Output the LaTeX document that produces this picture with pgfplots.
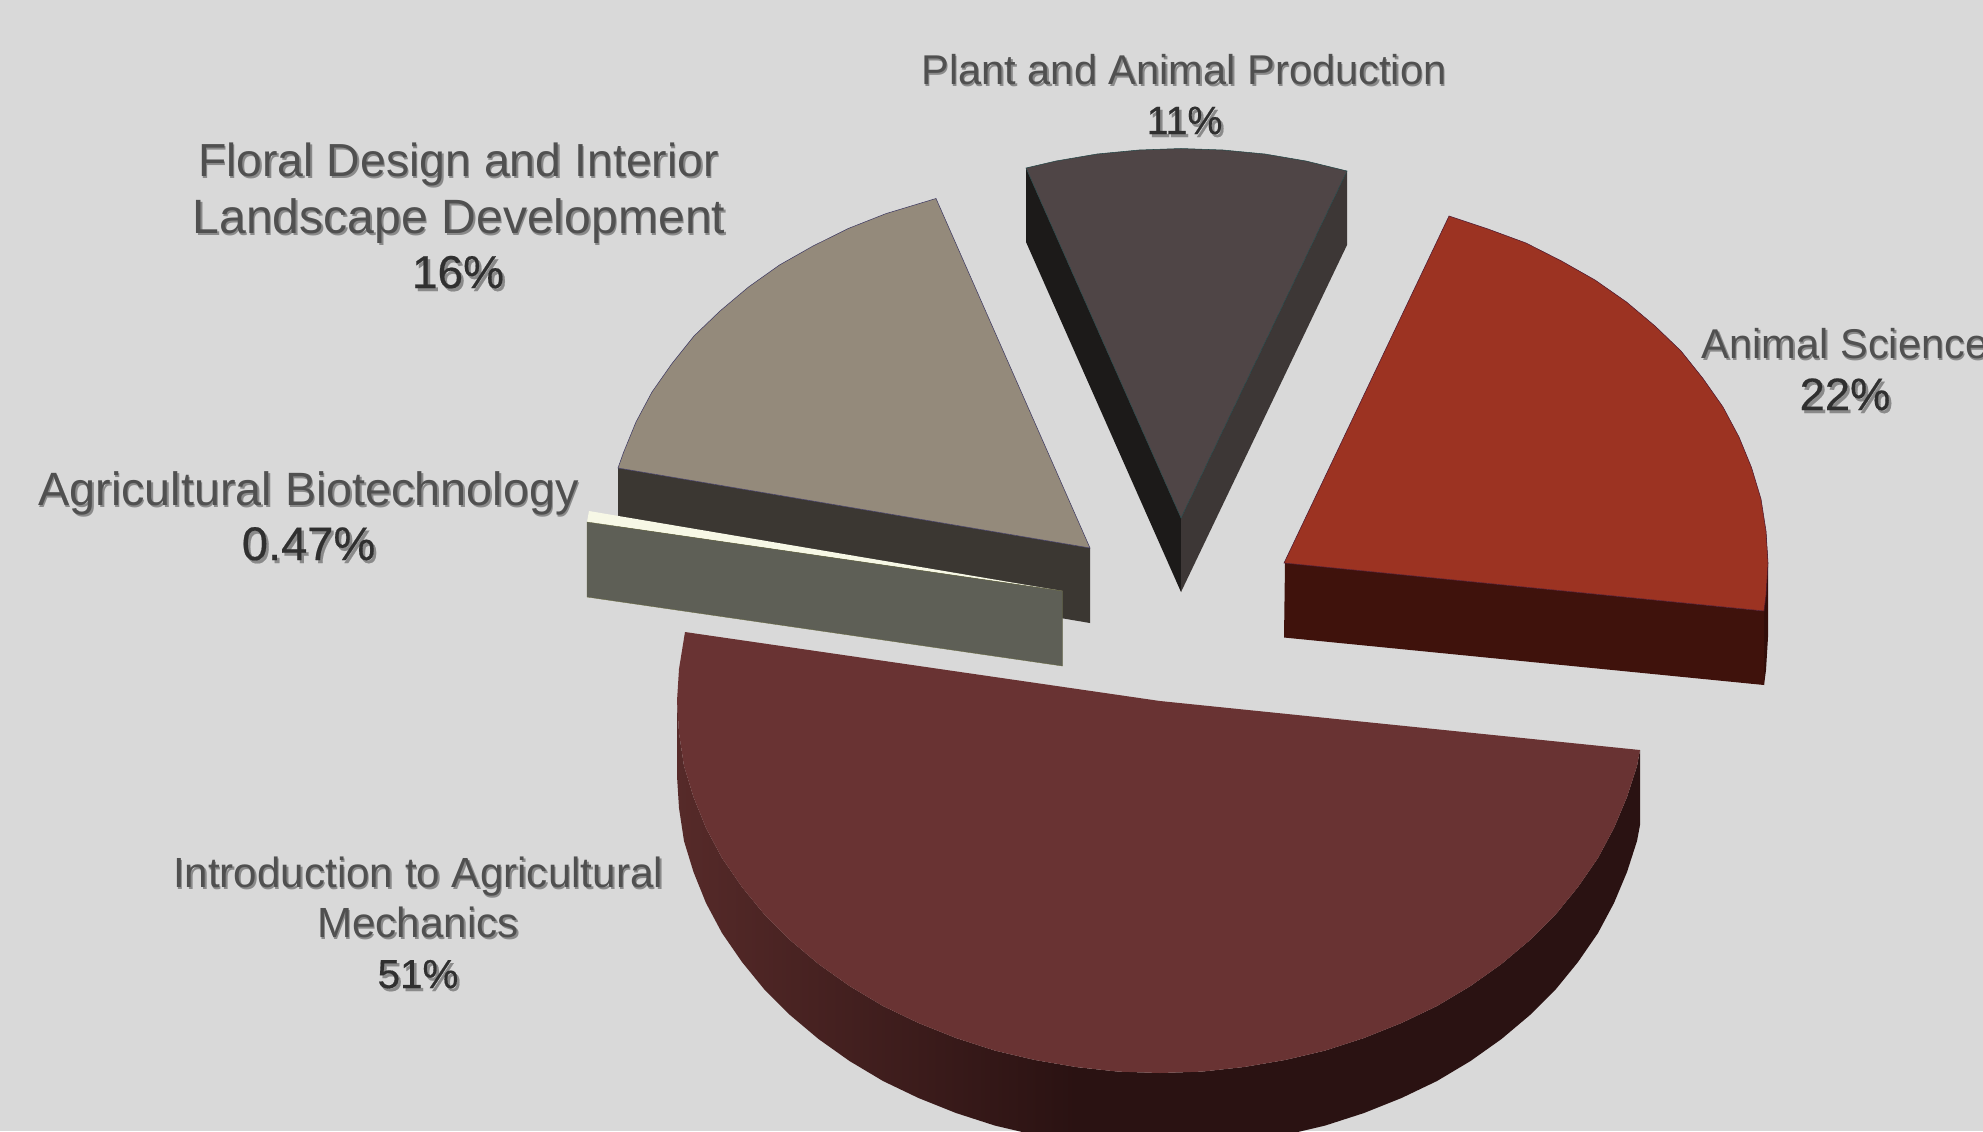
\documentclass[border=0pt]{standalone}
\usepackage{fontspec}
\setmainfont{Liberation Sans}
\newfontfamily\valuefont[FakeBold=0.4]{Liberation Sans}
\usepackage{pgfplots}
\pgfplotsset{compat=1.18}

\definecolor{bgcol}{HTML}{D9D9D9}
\definecolor{plantTop}{HTML}{4F4546}
\definecolor{plantLeft}{HTML}{1C1A19}
\definecolor{plantRight}{HTML}{3D3736}
\definecolor{animalTop}{HTML}{9C3322}
\definecolor{animalSide}{HTML}{3F120C}
\definecolor{floralTop}{HTML}{948A7B}
\definecolor{floralSide}{HTML}{3B3732}
\definecolor{biotechFront}{HTML}{5E5F56}
\definecolor{biotechTop}{HTML}{F7F8E6}
\definecolor{mechTop}{HTML}{693333}
\definecolor{mechDark}{HTML}{2A1212}
\definecolor{mechLight}{HTML}{562A29}
\definecolor{labelcol}{HTML}{505050}
\definecolor{valuecol}{HTML}{303030}
\definecolor{shadowcol}{HTML}{8A8A8A}

% one pixel of the drawing is 0.1 mm; positions below are given in pixels
% category label, one line, with its soft drop shadow
\newcommand{\catline}[4]{%
  \node[anchor=base,text=shadowcol,inner sep=0pt] at (axis cs:#1+1.5,#2+2) {\fontsize{#3}{#3}\selectfont #4};
  \node[anchor=base,text=labelcol,inner sep=0pt] at (axis cs:#1,#2) {\fontsize{#3}{#3}\selectfont #4};}
% percentage label, darker and with a heavier shadow
\newcommand{\valline}[4]{%
  \node[anchor=base,text=shadowcol,inner sep=0pt] at (axis cs:#1+2.5,#2+3) {\valuefont\fontsize{#3}{#3}\selectfont #4};
  \node[anchor=base,text=valuecol,inner sep=0pt] at (axis cs:#1,#2) {\valuefont\fontsize{#3}{#3}\selectfont #4};}

\begin{document}
\begin{tikzpicture}
\useasboundingbox (0,0) rectangle (19.83cm,11.31cm);
\clip (0,0) rectangle (19.83cm,11.31cm);
\begin{axis}[
  at={(0,0)}, anchor=south west,
  scale only axis, width=19.83cm, height=11.31cm,
  xmin=0, xmax=1983, ymin=0, ymax=1131, y dir=reverse,
  axis lines=none, ticks=none, no markers,
  axis background/.style={fill=bgcol},
]
% Floral Design slice: cut wall, then top face
\addplot[fill=floralSide,draw=none] coordinates {(618,468) (1090,548) (1090,623) (618,543)} --cycle;
\addplot[fill=floralTop,draw=floralTop!70!blue!60!black,line width=0.15pt] coordinates {
  (1090,548) (936,198.5) (886,213.6) (848.5,228.4) (813,246) (779.5,265) (748.5,287) (720,311)
  (694,336) (672,363.5) (652,392) (636,422) (623.5,452.5) (618,468)} --cycle;

% Agricultural Biotechnology sliver: nearly all of it is the cut wall
\addplot[fill=biotechTop,draw=none] coordinates {(589,511) (587,522) (1062.5,591)} --cycle;
\addplot[fill=biotechFront,draw=biotechFront!85!yellow!90!black,line width=0.1pt] coordinates {
  (587,522) (1062.5,591) (1062.5,666) (587,597)} --cycle;

% Plant and Animal Production slice
\addplot[fill=plantLeft,draw=none] coordinates {(1026,168) (1181,518) (1181,592) (1026,242)} --cycle;
\addplot[fill=plantRight,draw=none] coordinates {(1347,171) (1181,518) (1181,592) (1347,245)} --cycle;
\addplot[fill=plantTop,draw=plantTop!75!cyan!60!black,line width=0.15pt] coordinates {
  (1181,518) (1347,171) (1306,161) (1265,154) (1223,150) (1181,148.5) (1139,150) (1097,154)
  (1056,161) (1026,168)} --cycle;

% Animal Science slice: outer rim sliver, cut wall, top face
\addplot[fill=animalSide!80!black,draw=none] coordinates {
  (1766,531) (1768,563) (1768,637) (1766,670) (1764,685) (1764,611)} --cycle;
\addplot[fill=animalSide,draw=none] coordinates {(1285,563) (1764,611) (1764,685) (1284,637.5)} --cycle;
\addplot[fill=animalTop,draw=animalTop!80!blue!60!black,line width=0.15pt] coordinates {
  (1284,563) (1449,216) (1488,229) (1526,243) (1561.5,261) (1595,280) (1626.5,302) (1655,326)
  (1681,351) (1703,378.5) (1723,407) (1739,437) (1751.5,467.5) (1761,499) (1766,531) (1768,563)
  (1766,595) (1764,611)} --cycle;

% Introduction to Agricultural Mechanics slice: lit part of the outer wall
\addplot[left color=mechLight,right color=mechDark,draw=none] coordinates {
  (677,701) (679,733) (684,766) (693.5,797) (706,828) (722,858) (742,887) (764,914) (790,940)
  (818.5,964) (849.5,986) (883,1006) (918.5,1023) (956,1038) (995,1050.6) (1035,1060) (1076,1067)
  (1076,1142) (1035,1135) (995,1125.6) (956,1113) (918.5,1098) (883,1081)
  (849.5,1061) (818.5,1039) (790,1015) (764,989) (742,962) (722,933) (706,903) (693.5,872)
  (684,841) (679,808) (677,776)} --cycle;
% the part of the wall turned away from the light
\addplot[fill=mechDark,draw=none] coordinates {
  (1075.5,1067) (1118,1071.6) (1160,1073) (1202,1071.6) (1244,1067) (1285,1060) (1325,1050.6) (1364,1038) (1401.5,1023)
  (1437,1006) (1470.5,986) (1501.5,964) (1530,940) (1556,914) (1578,887) (1598,858) (1614,828)
  (1627,797) (1637,766) (1640,750)
  (1640,825) (1637,841) (1627,872) (1614,903) (1598,933) (1578,962) (1556,989) (1530,1015)
  (1501.5,1039) (1470.5,1061) (1437,1081) (1401.5,1098) (1364,1113) (1325,1125.6) (1285,1135)
  (1244,1142) (1202,1146.6) (1160,1148) (1118,1146.6) (1075.5,1142)} --cycle;
% top face
\addplot[fill=mechTop,draw=none] coordinates {
  (1160,701) (685,632) (679,669) (677,701) (679,733) (684,766) (693.5,797) (706,828) (722,858)
  (742,887) (764,914) (790,940) (818.5,964) (849.5,986) (883,1006) (918.5,1023) (956,1038)
  (995,1050.6) (1035,1060) (1076,1067) (1118,1071.6) (1160,1073) (1202,1071.6) (1244,1067)
  (1285,1060) (1325,1050.6) (1364,1038) (1401.5,1023) (1437,1006) (1470.5,986) (1501.5,964)
  (1530,940) (1556,914) (1578,887) (1598,858) (1614,828) (1627,797) (1637,766) (1640,750)} --cycle;

% labels
\catline{1184}{84}{11.84pt}{Plant and Animal Production}
\valline{1184.5}{134}{11.2pt}{11\%}
\catline{458.5}{176}{13.2pt}{Floral Design and Interior}
\catline{459}{233}{13.7pt}{Landscape Development}
\valline{458}{288}{13.1pt}{16\%}
\catline{1845}{358.5}{11.84pt}{Animal Science}
\valline{1845}{410}{12.9pt}{22\%}
\catline{308.6}{505}{13.3pt}{Agricultural Biotechnology}
\valline{308.6}{560}{13.4pt}{0.47\%}
\catline{418}{887}{12pt}{Introduction to Agricultural}
\catline{418}{937}{12pt}{Mechanics}
\valline{418}{988}{11.5pt}{51\%}
\end{axis}
\end{tikzpicture}
\end{document}
